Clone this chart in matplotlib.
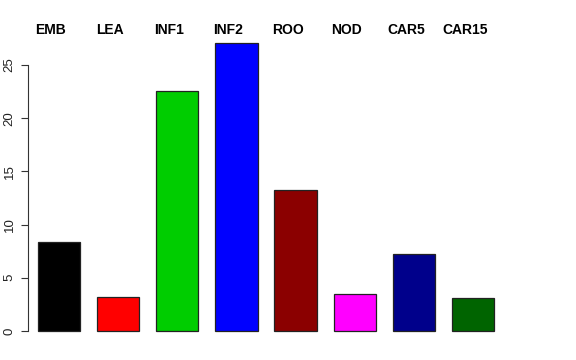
import numpy as np
import matplotlib
matplotlib.use("Agg")
import matplotlib.pyplot as plt

# values
groups = ['EMB', 'LEA', 'INF1', 'INF2', 'ROO', 'NOD', 'CAR5', 'CAR15']
counts = [8.36, 3.15, 22.56, 27.07, 13.25, 3.45, 7.2, 3.13]
colors = ['#000000', '#FF0000', '#00CD00', '#0000FF', '#8B0000', '#FF00FF', '#00008B', '#006400']
yticks = [0, 5, 10, 15, 20, 25]

plt.rcParams['font.family'] = ['Liberation Sans', 'DejaVu Sans']

fig = plt.figure(figsize=(5.76, 3.6), dpi=100)
W, H = 576, 360
# plot region in pixels: left 28, right 504, bottom 342.5, top 31.5
ax = fig.add_axes([28 / W, 1 - 342.5 / H, (504 - 28) / W, (342.5 - 31.5) / H])

x = np.arange(len(groups)) * 1.4
ax.bar(x, counts, width=1.0, color=colors, edgecolor='#222222', linewidth=0.9)

ax.set_xlim(-0.733, x[-1] + 0.733)
ax.set_ylim(-0.04 * max(counts), 1.04 * max(counts))

for xi, g in zip(x, groups):
    ax.annotate(g, xy=(xi, 1), xycoords=('data', 'axes fraction'),
                xytext=(-5.8, 1), textcoords='offset points',
                ha='center', va='center', fontsize=10, fontweight='bold')

ax.set_xticks([])
ax.set_yticks(yticks)
ax.set_yticklabels([str(v) for v in yticks], rotation=90, va='center', fontsize=9.5)
ax.tick_params(axis='y', length=5, width=0.8, pad=4, colors='#333333', labelcolor='#222222')
for s in ['top', 'right', 'bottom']:
    ax.spines[s].set_visible(False)
ax.spines['left'].set_bounds(0, 25)
ax.spines['left'].set_linewidth(0.8)
ax.spines['left'].set_color('#333333')

fig.savefig('out.png', dpi=100)
